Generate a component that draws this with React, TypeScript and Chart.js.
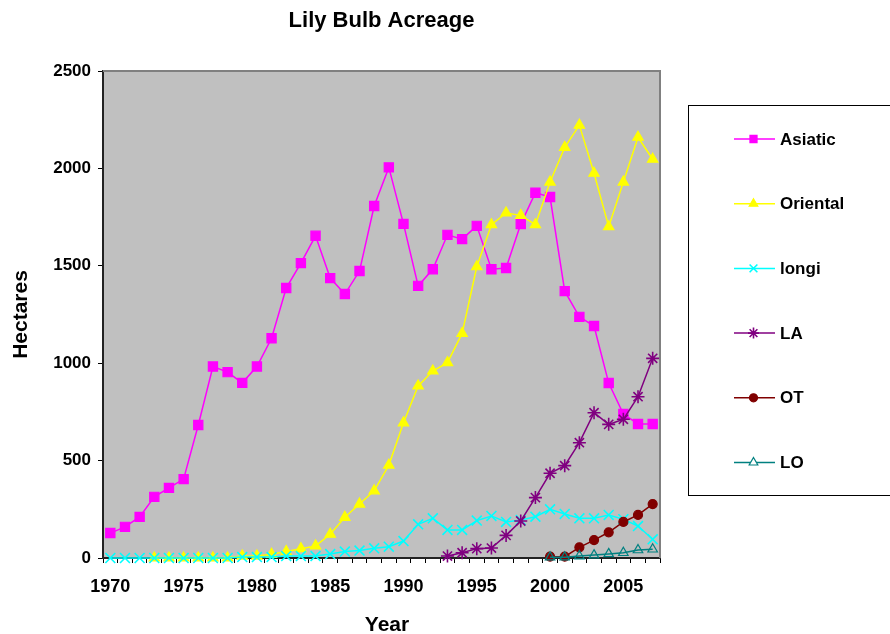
import React, { useEffect, useRef } from 'react';
import { Chart, registerables } from 'chart.js';
import { drawPoint } from 'chart.js/helpers';

Chart.register(...registerables);

const years: string[] = [
  '1970','1971','1972','1973','1974','1975','1976','1977','1978','1979',
  '1980','1981','1982','1983','1984','1985','1986','1987','1988','1989',
  '1990','1991','1992','1993','1994','1995','1996','1997','1998','1999',
  '2000','2001','2002','2003','2004','2005','2006','2007',
];

const asiatic: (number | null)[] = [
  128, 160, 211, 314, 360, 405, 683, 983, 954, 899,
  983, 1128, 1386, 1514, 1654, 1437, 1355, 1473, 1807, 2005,
  1715, 1397, 1482, 1659, 1637, 1705, 1482, 1489, 1714, 1875,
  1853, 1370, 1238, 1191, 898, 739, 688, 688,
];

const oriental: (number | null)[] = [
  null, null, null, 0, 0, 0, 0, 0, 0, 10,
  10, 19, 33, 48, 62, 122, 209, 277, 345, 477,
  694, 883, 960, 1003, 1153, 1495, 1711, 1771, 1759, 1711,
  1930, 2108, 2222, 1975, 1701, 1930, 2160, 2047,
];

const longi: (number | null)[] = [
  0, 0, 0, 0, 0, 0, 0, 0, 0, 5,
  5, 5, 10, 10, 10, 20, 33, 38, 50, 58,
  87, 173, 204, 144, 144, 192, 216, 185, 195, 212,
  250, 226, 204, 204, 221, 199, 164, 96,
];

const la: (number | null)[] = [
  null, null, null, null, null, null, null, null, null, null,
  null, null, null, null, null, null, null, null, null, null,
  null, null, null, 10, 27, 48, 51, 116, 190, 310,
  435, 474, 592, 746, 686, 712, 828, 1025,
];

const ot: (number | null)[] = [
  null, null, null, null, null, null, null, null, null, null,
  null, null, null, null, null, null, null, null, null, null,
  null, null, null, null, null, null, null, null, null, null,
  7, 7, 55, 92, 132, 185, 221, 277,
];

const lo: (number | null)[] = [
  null, null, null, null, null, null, null, null, null, null,
  null, null, null, null, null, null, null, null, null, null,
  null, null, null, null, null, null, null, null, null, null,
  4, 4, 10, 15, 21, 27, 41, 45,
];

const seriesNames = ['Asiatic', 'Oriental', 'longi', 'LA', 'OT', 'LO'];
const yTicks = [0, 500, 1000, 1500, 2000, 2500];

const FONT = 'Arial, "Liberation Sans", Helvetica, sans-serif';

const decorPlugin = {
  id: 'decor',
  beforeDatasetsDraw(chart: any) {
    const { ctx, chartArea } = chart;
    ctx.save();
    ctx.strokeStyle = '#808080';
    ctx.lineWidth = 2;
    ctx.beginPath();
    ctx.moveTo(chartArea.left, chartArea.top);
    ctx.lineTo(chartArea.right, chartArea.top);
    ctx.lineTo(chartArea.right, chartArea.bottom);
    ctx.stroke();
    ctx.restore();
  },
  beforeDraw(chart: any) {
    const { ctx, chartArea } = chart;
    ctx.save();
    ctx.fillStyle = '#ffffff';
    ctx.fillRect(0, 0, chart.width, chart.height);
    ctx.fillStyle = '#C0C0C0';
    ctx.fillRect(chartArea.left, chartArea.top, chartArea.right - chartArea.left, chartArea.bottom - chartArea.top);
    ctx.restore();
  },
  afterDraw(chart: any) {
    const { ctx, chartArea } = chart;
    ctx.save();
    ctx.fillStyle = '#000';
    // title
    ctx.font = `bold 22px ${FONT}`;
    ctx.textAlign = 'center';
    ctx.textBaseline = 'middle';
    ctx.fillText('Lily Bulb Acreage', (chartArea.left + chartArea.right) / 2, 21);
    // x title
    ctx.font = `bold 21px ${FONT}`;
    ctx.fillText('Year', 387, 625);
    // y title
    ctx.save();
    ctx.translate(21, (chartArea.top + chartArea.bottom) / 2);
    ctx.rotate(-Math.PI / 2);
    ctx.fillText('Hectares', 0, 0);
    ctx.restore();

    // legend
    ctx.strokeStyle = '#000';
    ctx.lineWidth = 1;
    ctx.strokeRect(688.5, 105.5, 220, 390);
    ctx.font = `bold 17px ${FONT}`;
    ctx.textAlign = 'left';
    chart.data.datasets.forEach((ds: any, i: number) => {
      const y = 139 + i * 64.7;
      ctx.strokeStyle = ds.borderColor;
      ctx.lineWidth = 1.5;
      ctx.beginPath();
      ctx.moveTo(734, y);
      ctx.lineTo(775, y);
      ctx.stroke();
      ctx.fillStyle = ds.legendFill || ds.pointBackgroundColor;
      ctx.strokeStyle = ds.pointBorderColor;
      ctx.lineWidth = ds.pointBorderWidth;
      drawPoint(ctx, { pointStyle: ds.pointStyle, radius: ds.legendRadius, rotation: 0, borderWidth: ds.pointBorderWidth }, 753.5, y);
      ctx.fillStyle = '#000';
      ctx.fillText(ds.label, 780, y + 1);
    });
    ctx.restore();
  },
};

export default function App() {
  const ref = useRef<HTMLCanvasElement | null>(null);
  useEffect(() => {
    if (!ref.current) return;
    const mk = (
      label: string,
      data: (number | null)[],
      color: string,
      style: string,
      radius: number,
      fill: string,
      order: number,
      legendRadius: number,
      legendFill?: string,
    ) => ({
      label,
      data,
      borderColor: color,
      backgroundColor: color,
      borderWidth: 1.5,
      pointStyle: style,
      pointRadius: radius,
      pointBackgroundColor: fill,
      pointBorderColor: color,
      pointBorderWidth: style === 'crossRot' || style === 'star' ? 1.6 : 1.2,
      tension: 0,
      clip: false,
      order,
      legendRadius,
      legendFill,
    });
    const chart = new Chart(ref.current, {
      type: 'line',
      data: {
        labels: years,
        datasets: [
          mk(seriesNames[0], asiatic, '#FF00FF', 'rect', 6.5, '#FF00FF', 5, 5),
          mk(seriesNames[1], oriental, '#FFFF00', 'triangle', 6, '#FFFF00', 4, 5),
          mk(seriesNames[2], longi, '#00FFFF', 'crossRot', 7, '#00FFFF', 3, 5.5),
          mk(seriesNames[3], la, '#800080', 'star', 6.5, '#800080', 2, 5.5),
          mk(seriesNames[4], ot, '#800000', 'circle', 4.5, '#800000', 1, 4),
          mk(seriesNames[5], lo, '#008080', 'triangle', 5.5, 'rgba(0,0,0,0)', 0, 5, '#ffffff'),
        ] as any,
      },
      options: {
        responsive: false,
        animation: false,
        devicePixelRatio: 1,
        layout: { padding: { top: 71, right: 230, left: 0, bottom: 0 } },
        plugins: {
          legend: { display: false },
          title: { display: false },
          tooltip: { enabled: false },
        },
        scales: {
          x: {
            type: 'category',
            offset: true,
            afterFit: (s: any) => { s.height = 76; },
            grid: {
              offset: true,
              drawOnChartArea: false,
              drawTicks: true,
              tickLength: 5,
              tickColor: '#000',
              color: '#000',
            },
            border: { color: '#222', width: 2 },
            ticks: {
              autoSkip: false,
              maxRotation: 0,
              minRotation: 0,
              padding: 13,
              color: '#000',
              font: { family: FONT, size: 18, weight: 'bold' },
              callback: (_v: any, i: number) => (Number(years[i]) % 5 === 0 ? years[i] : ''),
            },
          },
          y: {
            min: 0,
            max: 2500,
            afterFit: (s: any) => { s.width = 103; },
            afterBuildTicks: (s: any) => { s.ticks = yTicks.map((v) => ({ value: v })); },
            grid: {
              drawOnChartArea: false,
              drawTicks: true,
              tickLength: 5,
              tickColor: '#000',
              color: '#000',
            },
            border: { color: '#222', width: 2 },
            ticks: {
              padding: 7,
              color: '#000',
              font: { family: FONT, size: 17, weight: 'bold' },
              callback: (v: any) => String(v),
            },
          },
        },
      },
      plugins: [decorPlugin],
    } as any);
    return () => chart.destroy();
  }, []);
  return (
    <div style={{ position: 'absolute', left: 0, top: 0, width: 890, height: 634, background: '#fff' }}>
      <canvas ref={ref} width={890} height={634} />
    </div>
  );
}
